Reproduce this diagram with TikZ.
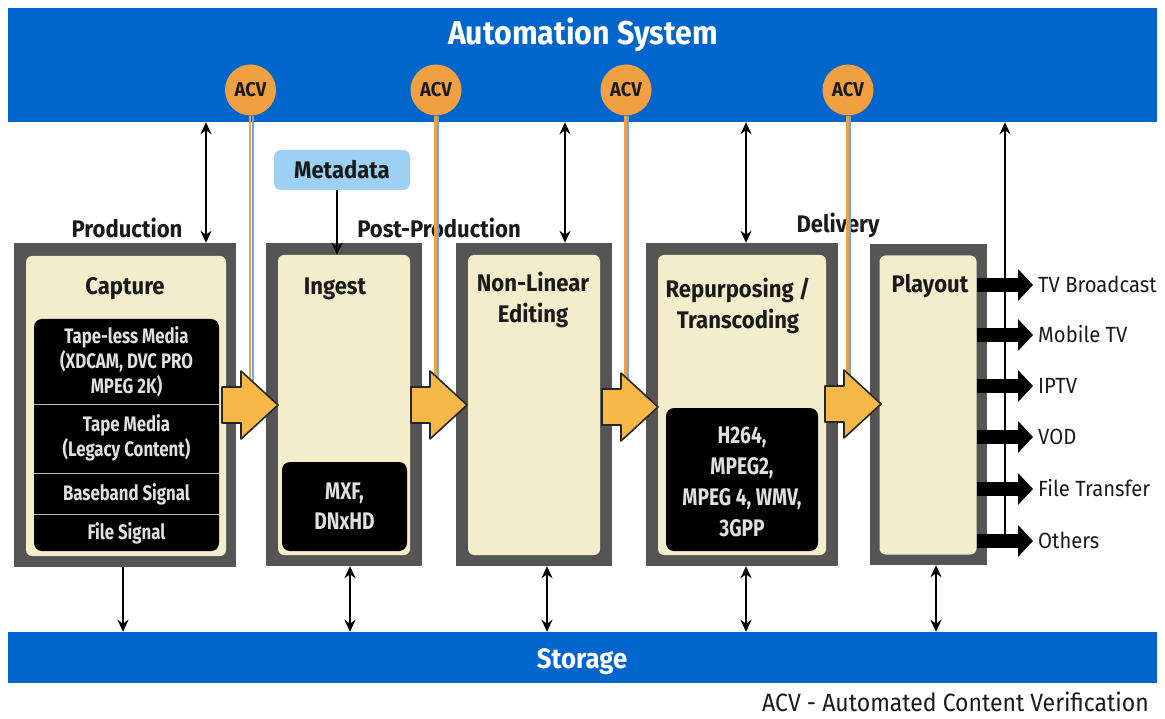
\documentclass[tikz,border=0pt]{standalone}
\usepackage{fontspec}
\setmainfont{Fira Sans}[FakeStretch=0.92]
\newfontfamily\narrowf{Fira Sans}[FakeStretch=0.8]
\usetikzlibrary{arrows.meta,calc}
\definecolor{barblue}{HTML}{0066CC}
\definecolor{acvorange}{HTML}{F0A040}
\definecolor{arrorange}{HTML}{F8B848}
\definecolor{boxgray}{HTML}{555555}
\definecolor{cream}{HTML}{F4EDCB}
\definecolor{metablue}{HTML}{9DD0F2}
\definecolor{lineblue}{HTML}{6AA8E8}
\definecolor{txt}{HTML}{1A1A1A}
\definecolor{blktxt}{HTML}{E0E0E0}
\begin{document}
\begin{tikzpicture}[x=1pt,y=-1pt,
  bar/.style={fill=barblue, draw=none, inner sep=0pt, minimum width=1149pt},
  bartext/.style={text=white, font=\bfseries\fontsize{33}{36}\selectfont, inner sep=0pt},
  outerbox/.style={fill=boxgray, inner sep=0pt},
  innerbox/.style={fill=cream, rounded corners=6pt, inner sep=0pt},
  blk/.style={fill=black, rounded corners=8pt, inner sep=0pt},
  blktext/.style={text=blktxt, align=center, font=\narrowf\bfseries\fontsize{21}{25}\selectfont, inner sep=0pt},
  title/.style={text=txt, align=center, font=\bfseries\fontsize{24}{31}\selectfont, inner sep=0pt},
  phase/.style={text=txt, font=\bfseries\fontsize{24}{26}\selectfont, inner sep=1pt},
  acv/.style={circle, fill=acvorange, minimum size=51pt, inner sep=0pt, text=txt, font=\bfseries\fontsize{20}{20}\selectfont},
  meta/.style={fill=metablue, rounded corners=7pt, minimum width=136pt, minimum height=40pt, inner sep=0pt, text=txt, font=\bfseries\fontsize{24}{26}\selectfont},
  conn/.style={line width=1.8pt, black},
  fatarr/.style={fill=arrorange, draw=black!85, line width=1.6pt, line join=round},
  outarr/.style={line width=14pt, black, -{Triangle[length=15pt,width=31pt]}},
  outlabel/.style={anchor=west, text=txt, font=\fontsize{22}{24}\selectfont, inner sep=0pt, text height=15pt, text depth=0pt},
  sepline/.style={line width=1pt, black!25},
]
\useasboundingbox (0,0) rectangle (1165,719);
\fill[white] (0,0) rectangle (1165,719);

% bars
\node[bar, minimum height=114pt] (auto) at (582.5,65) {};
\node[bartext, anchor=base] (autot) at (583,45) {Automation System};
\node[bar, minimum height=51pt] (stor) at (582.5,657.5) {};
\node[bartext, anchor=base, font=\bfseries\fontsize{28}{30}\selectfont] (stort) at (582,668) {Storage};

% footer
\node[anchor=base east, inner sep=0pt, text=txt, font=\fontsize{25}{27}\selectfont, text height=17pt, text depth=0pt] (foot) at (1149,711) {ACV - Automated Content Verification};

% phase labels
\node[phase] (prod) at (127,228) {Production};
\node[phase] (post) at (439,228) {Post-Production};
\node[phase] (deliv) at (838,225) {Delivery};

% boxes
\node[outerbox, minimum width=222pt, minimum height=324pt] (cap) at (125,405) {};
\node[innerbox, minimum width=200pt, minimum height=300pt] (capin) at (126,406) {};
\node[outerbox, minimum width=156pt, minimum height=323pt] (ing) at (344,404.5) {};
\node[innerbox, minimum width=132pt, minimum height=300pt] (ingin) at (344,405) {};
\node[outerbox, minimum width=156pt, minimum height=323pt] (nle) at (534,404.5) {};
\node[innerbox, minimum width=132pt, minimum height=300pt] (nlein) at (534,405) {};
\node[outerbox, minimum width=192pt, minimum height=323pt] (rep) at (742,404.5) {};
\node[innerbox, minimum width=168pt, minimum height=300pt] (repin) at (742,405) {};
\node[outerbox, minimum width=117pt, minimum height=321pt] (pl) at (928.5,404.5) {};
\node[innerbox, minimum width=97pt, minimum height=299pt] (plin) at (928,405) {};

% titles
\node[title, anchor=base] (capt) at (125,295) {Capture};
\node[title, anchor=base] (ingt) at (335,295) {Ingest};
\node[title] (nlet) at (533,300) {Non-Linear\\Editing};
\node[title] (rept) at (738,306) {Repurposing /\\Transcoding};
\node[title, anchor=base] (plt) at (930,293) {Playout};

% capture black box
\node[blk, minimum width=185pt, minimum height=232pt] (capb) at (126.5,435) {};
\draw[sepline] (capb.west |- 0,404) -- (capb.east |- 0,404);
\draw[sepline] (capb.west |- 0,473) -- (capb.east |- 0,473);
\draw[sepline] (capb.west |- 0,514) -- (capb.east |- 0,514);
\node[blktext] (cb1) at (126.5,362) {Tape-less Media\\(XDCAM, DVC PRO\\MPEG 2K)};
\node[blktext] (cb2) at (126.5,438) {Tape Media\\(Legacy Content)};
\node[blktext] (cb3) at (126.5,494) {Baseband Signal};
\node[blktext] (cb4) at (126.5,533) {File Signal};

% ingest black box
\node[blk, minimum width=125pt, minimum height=89pt] (ingb) at (344.5,506.5) {};
\node[blktext, font=\narrowf\bfseries\fontsize{24}{30}\selectfont] (ingbt) at (344.5,506) {MXF,\\DNxHD};

% repurposing black box
\node[blk, minimum width=152pt, minimum height=143pt] (repb) at (742,479.5) {};
\node[blktext, font=\narrowf\bfseries\fontsize{24}{31}\selectfont] (repbt) at (742,482) {H264,\\MPEG2,\\MPEG 4, WMV,\\3GPP};

% metadata
\node[meta] (meta) at (342,170) {Metadata};
\coordinate (xm) at (337,0);
\draw[conn, -{Stealth[length=12pt,width=11pt]}] (meta.south -| xm) -- (ingin.north -| xm);

% automation arrows
\coordinate (xa1) at (206,0);
\coordinate (xa2) at (565,0);
\coordinate (xa3) at (746,0);
\draw[conn, {Stealth[length=12pt,width=11pt]}-{Stealth[length=12pt,width=11pt]}] (auto.south -| xa1) -- (cap.north -| xa1);
\draw[conn, {Stealth[length=12pt,width=11pt]}-{Stealth[length=12pt,width=11pt]}] (auto.south -| xa2) -- (nle.north -| xa2);
\draw[conn, {Stealth[length=12pt,width=11pt]}-{Stealth[length=12pt,width=11pt]}] (auto.south -| xa3) -- (rep.north -| xa3);
\coordinate (plv) at (1005,541);
\draw[conn, -{Stealth[length=12pt,width=11pt]}] (plv) -- (auto.south -| plv);

% storage arrows
\coordinate (xs1) at (123,0);
\coordinate (xs2) at (350,0);
\coordinate (xs3) at (547,0);
\coordinate (xs4) at (746,0);
\coordinate (xs5) at (936,0);
\draw[conn, -{Stealth[length=12pt,width=11pt]}] (cap.south -| xs1) -- (stor.north -| xs1);
\draw[conn, {Stealth[length=12pt,width=11pt]}-{Stealth[length=12pt,width=11pt]}] (ing.south -| xs2) -- (stor.north -| xs2);
\draw[conn, {Stealth[length=12pt,width=11pt]}-{Stealth[length=12pt,width=11pt]}] (nle.south -| xs3) -- (stor.north -| xs3);
\draw[conn, {Stealth[length=12pt,width=11pt]}-{Stealth[length=12pt,width=11pt]}] (rep.south -| xs4) -- (stor.north -| xs4);
\draw[conn, {Stealth[length=12pt,width=11pt]}-{Stealth[length=12pt,width=11pt]}] (pl.south -| xs5) -- (stor.north -| xs5);

% ACV circles and lines
\node[acv] (acv1) at (250.5,90) {ACV};
\node[acv] (acv2) at (436,90) {ACV};
\node[acv] (acv3) at (626,90) {ACV};
\node[acv] (acv4) at (848,90) {ACV};
\coordinate (e1) at (250.5,381);
\coordinate (e2) at (436,381);
\coordinate (e3) at (626,383);
\coordinate (e4) at (848,380);
\foreach \i in {1,2,3,4}{
  \draw[lineblue, line width=2pt] ([xshift=2pt]acv\i.south) -- ([xshift=2pt]e\i);
  \draw[acvorange, line width=2.4pt] ([xshift=-0.5pt]acv\i.south) -- ([xshift=-0.5pt]e\i);
}

% orange flow arrows
\foreach \x/\y in {222/405, 411/405, 602/407, 825/404}{
  \filldraw[fatarr] (\x,\y) ++(0,-18) -- ++(19,0) -- ++(0,-16) -- ++(37,34) -- ++(-37,34) -- ++(0,-16) -- ++(-19,0) -- cycle;
}

% outputs
\node[outlabel] (o1) at (1038,285) {TV Broadcast};
\node[outlabel] (o2) at (1038,335) {Mobile TV};
\node[outlabel] (o3) at (1038,386) {IPTV};
\node[outlabel] (o4) at (1038,437) {VOD};
\node[outlabel] (o5) at (1038,489) {File Transfer};
\node[outlabel] (o6) at (1038,541) {Others};
\foreach \i in {1,...,6}{
  \draw[outarr] (plin.east |- o\i.west) -- ([xshift=-5pt]o\i.west);
}
\end{tikzpicture}
\end{document}
